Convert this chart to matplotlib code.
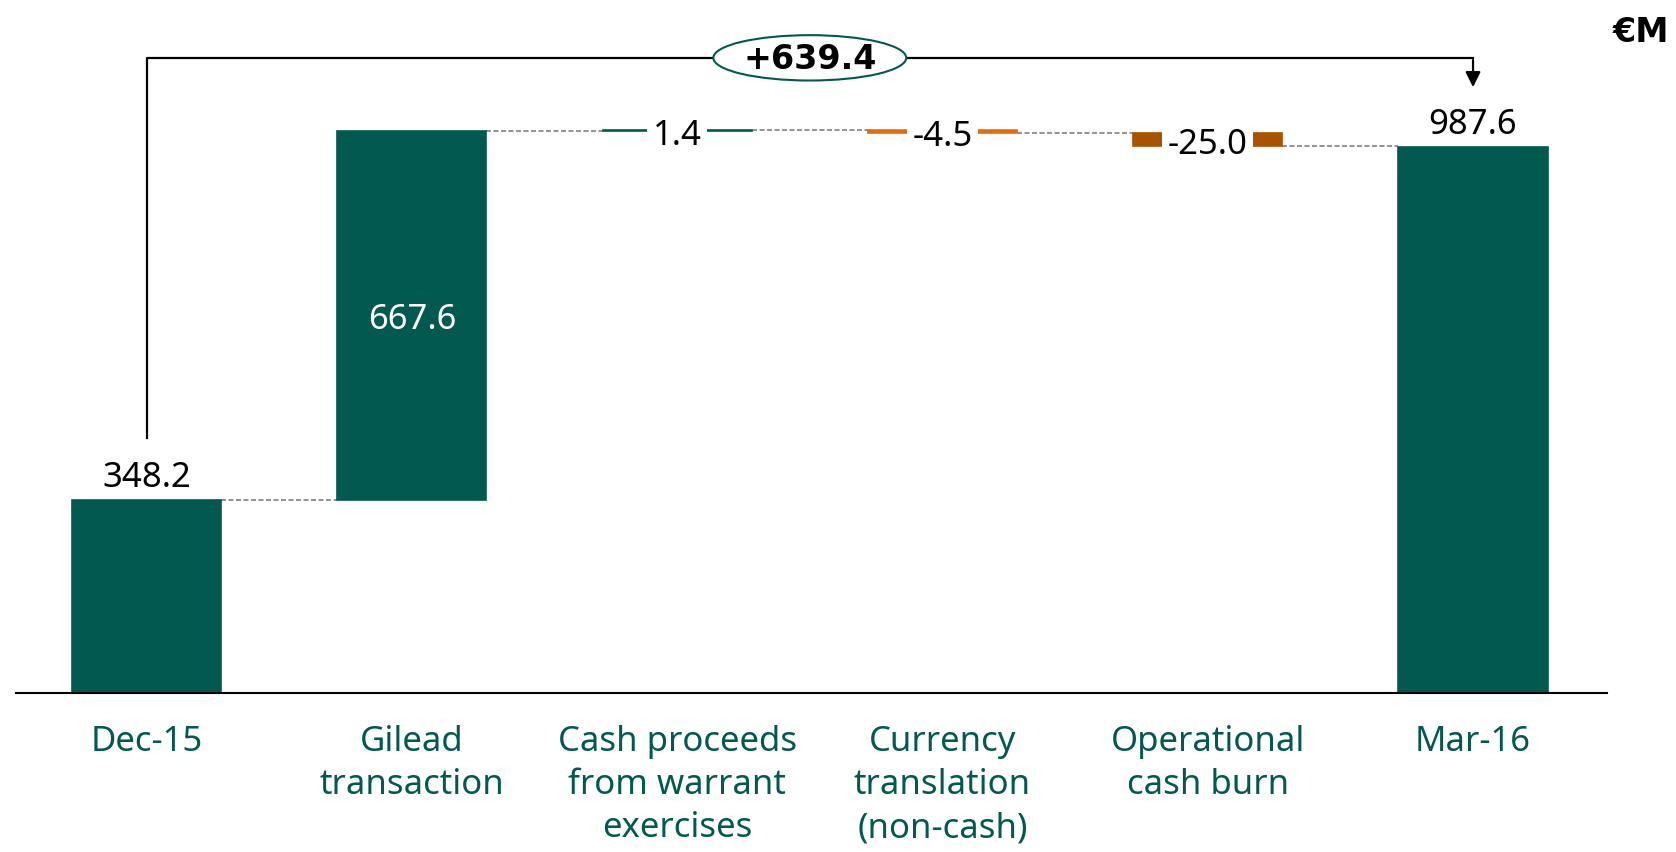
import numpy as np
import matplotlib
matplotlib.use("Agg")
import matplotlib.pyplot as plt
from matplotlib.patches import Ellipse

plt.rcParams["font.family"] = ["Noto Sans", "DejaVu Sans"]

# Data
categories = ["Dec-15", "Gilead\ntransaction", "Cash proceeds\nfrom warrant\nexercises",
              "Currency\ntranslation\n(non-cash)", "Operational\ncash burn", "Mar-16"]
start_value = 348.2
deltas = [667.6, 1.4, -4.5, -25.0]
end_value = 987.6
delta_labels = ["667.6", "1.4", "-4.5", "-25.0"]

green = "#02594F"
orange = "#E46C0A"
brown = "#A95300"
delta_colors = [green, green, orange, brown]

# Build waterfall bottoms / heights
bottoms = [0]
heights = [start_value]
level = start_value
for d in deltas:
    bottoms.append(min(level, level + d))
    heights.append(abs(d))
    level += d
bottoms.append(0)
heights.append(end_value)
tops = [b + h for b, h in zip(bottoms, heights)]
colors = [green] + delta_colors + [green]

x = np.arange(len(categories))
bw = 0.562

fig = plt.figure(figsize=(16.76, 8.52), dpi=100)
ax = fig.add_axes([0.00955, 0.18697, 0.94928, 0.7789])

ax.bar(x, heights, bw, bottom=bottoms, color=colors, edgecolor=colors,
       linewidth=1.2, zorder=2)

# Connectors
levels = [start_value]
lv = start_value
for d in deltas:
    lv += d
    levels.append(lv)
for i in range(len(x) - 1):
    ax.plot([x[i] + bw / 2, x[i + 1] - bw / 2], [levels[i], levels[i]],
            color="#808080", lw=1.2, ls=(0, (3, 1.5)), zorder=1)

# Value labels
ax.text(x[0], tops[0] + 10, f"{start_value:.1f}", ha="center", va="bottom", fontsize=25)
ax.text(x[-1], tops[-1] + 8, f"{end_value:.1f}", ha="center", va="bottom", fontsize=25)
ax.text(x[1], bottoms[1] + heights[1] / 2 - 8, delta_labels[0], ha="center", va="center",
        fontsize=25, color="white")
for i in range(2, 5):
    ax.text(x[i], bottoms[i] + heights[i] / 2 - 10, delta_labels[i - 1], ha="center",
            va="center", fontsize=25, zorder=4,
            bbox=dict(facecolor="white", edgecolor="none", pad=4))

# Bracket with total change
bracket_y = 1148
ax.plot([x[0], x[0], x[-1]], [460, bracket_y, bracket_y], color="black", lw=1.6,
        zorder=3)
ax.annotate("", xy=(x[-1], 1090), xytext=(x[-1], bracket_y + 1),
            arrowprops=dict(arrowstyle="-|>,head_length=0.9,head_width=0.45",
                            color="black", lw=1.6), zorder=3)
ax.add_patch(Ellipse((2.5, bracket_y), 0.727, 82, facecolor="white", edgecolor=green,
                     lw=1.5, zorder=4))
ax.text(2.5, bracket_y - 3, f"+{end_value - start_value:.1f}", ha="center", va="center",
        fontsize=24, fontweight="bold", family="DejaVu Sans", zorder=5)

fig.text(0.979, 0.962, "€M", ha="center", va="center", fontsize=24, fontweight="bold",
         family="DejaVu Sans")

ax.set_xlim(-0.492, 5.505)
ax.set_ylim(0, 1200)
ax.set_xticks(x)
ax.set_xticklabels(categories, color=green, fontsize=25, linespacing=1.36)
ax.tick_params(axis="x", length=0, pad=23)
ax.set_yticks([])
for s in ["top", "left", "right"]:
    ax.spines[s].set_visible(False)
ax.spines["bottom"].set_linewidth(1.5)

fig.savefig("out.png", dpi=100)
